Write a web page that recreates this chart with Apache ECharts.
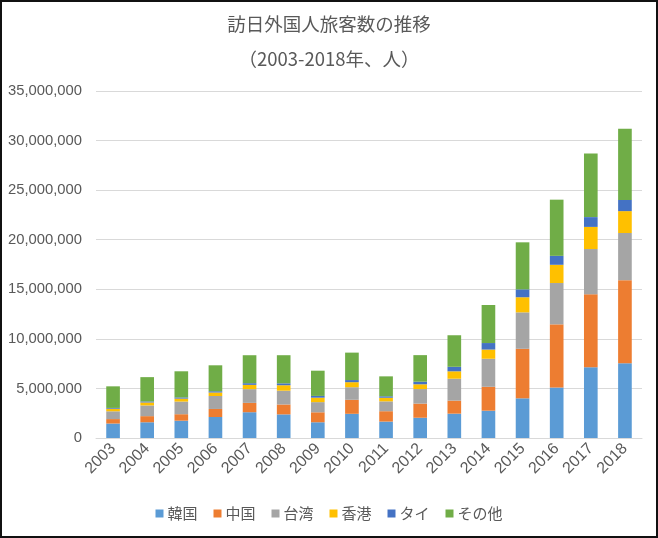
<!DOCTYPE html>
<html>
<head>
<meta charset="utf-8">
<script src="https://cdn.jsdelivr.net/npm/echarts@6/dist/echarts.min.js"></script>
<style>
html,body{margin:0;padding:0;background:#fff;}
#wrap{position:absolute;left:0;top:0;width:658px;height:538px;box-sizing:border-box;border:2px solid #111;}
#chart{position:absolute;left:0;top:0;width:658px;height:538px;}
</style>
</head>
<body>
<div id="chart"></div>
<div id="wrap"></div>
<script>
const years = ['2003','2004','2005','2006','2007','2008','2009','2010','2011','2012','2013','2014','2015','2016','2017','2018'];
const korea  = [1459000,1588000,1747000,2117000,2601000,2382000,1587000,2440000,1658000,2044000,2456000,2755000,4002000,5090000,7140000,7539000];
const china  = [449000,616000,653000,812000,942000,1000000,1006000,1413000,1044000,1425000,1314000,2409000,4994000,6373000,7356000,8380000];
const taiwan = [785000,1081000,1275000,1309000,1385000,1390000,1024000,1268000,994000,1466000,2211000,2830000,3677000,4168000,4564000,4757000];
const hongkong = [260000,300000,299000,352000,432000,550000,450000,509000,365000,482000,746000,926000,1524000,1839000,2232000,2208000];
const thai   = [80000,104000,120000,126000,167000,192000,178000,215000,145000,261000,454000,658000,797000,902000,987000,1132000];
const other  = [2178000,2450000,2635000,2617000,2822000,2837000,2544000,2767000,2012000,2680000,3183000,3837000,4743000,5667000,6412000,7175000];
const seriesNames = ['韓国','中国','台湾','香港','タイ','その他'];
const seriesColors = ['#5b9bd5','#ed7d31','#a5a5a5','#ffc000','#4472c4','#70ad47'];
const seriesData = [korea, china, taiwan, hongkong, thai, other];
const yTicks = [0,5000000,10000000,15000000,20000000,25000000,30000000,35000000];

const chart = echarts.init(document.getElementById('chart'), null, {renderer:'canvas'});
const font = '"Liberation Sans", "Noto Sans CJK JP", sans-serif';
chart.setOption({
  animation:false,
  backgroundColor:'#fff',
  title:[
    {text:'訪日外国人旅客数の推移', left:'center', top:10, textStyle:{fontFamily:'"Noto Sans CJK JP", sans-serif', fontSize:18.5, fontWeight:'normal', color:'#595959'}},
    {text:'（2003-2018年、人）', left:'center', top:45, textStyle:{fontFamily:'"Noto Sans CJK JP", sans-serif', fontSize:18.5, fontWeight:'normal', color:'#595959'}}
  ],
  legend:{
    bottom:12, left:'center', itemWidth:8, itemHeight:8, itemGap:16,
    icon:'rect',
    data:seriesNames,
    textStyle:{fontFamily:'"Noto Sans CJK JP", sans-serif', fontSize:15, color:'#595959', padding:[0,0,0,-1]}
  },
  grid:{left:96, right:16, top:91, bottom:100, containLabel:false},
  xAxis:{
    type:'category', data:years,
    axisLine:{lineStyle:{color:'#d9d9d9'}},
    axisTick:{show:false},
    axisLabel:{rotate:45, fontFamily:font, fontSize:16, color:'#595959', margin:8, interval:0}
  },
  yAxis:{
    type:'value', min:yTicks[0], max:yTicks[yTicks.length-1], interval:5000000,
    axisLine:{show:false}, axisTick:{show:false},
    splitLine:{lineStyle:{color:'#d9d9d9', width:1}},
    axisLabel:{fontFamily:font, fontSize:14.8, color:'#595959', margin:14,
      formatter:v=>v.toLocaleString('en-US')}
  },
  series: seriesNames.map((n,i)=>({
    name:n, type:'bar', stack:'total', data:seriesData[i], barWidth:'40%',
    itemStyle:{color:seriesColors[i]}
  }))
});
</script>
</body>
</html>
